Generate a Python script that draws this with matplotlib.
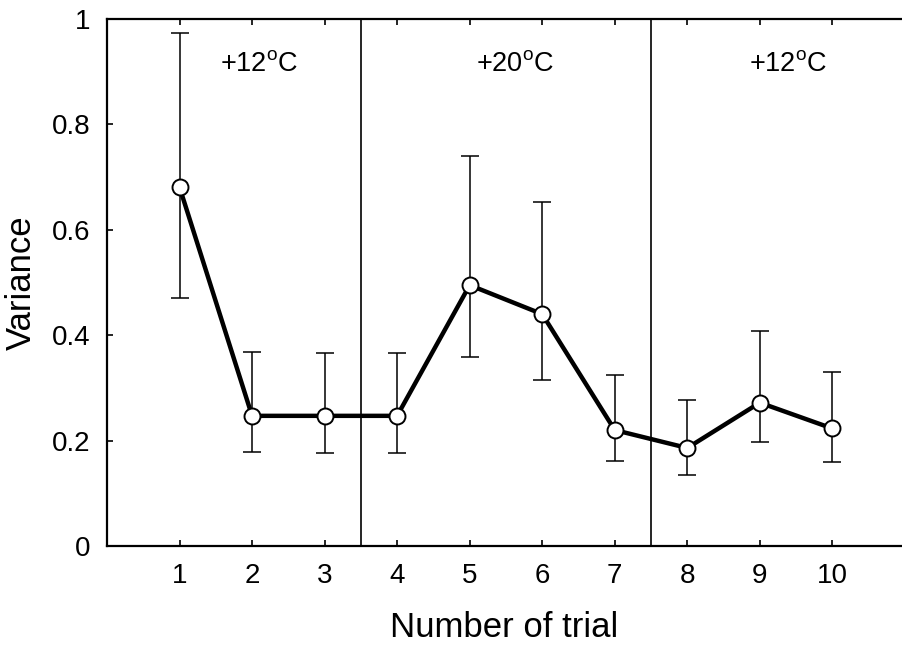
import numpy as np
import matplotlib
matplotlib.use("Agg")
import matplotlib.pyplot as plt

plt.rcParams['font.family'] = ['Liberation Sans', 'DejaVu Sans']
plt.rcParams['mathtext.fontset'] = 'custom'
plt.rcParams['mathtext.rm'] = 'Liberation Sans'

trial = [1, 2, 3, 4, 5, 6, 7, 8, 9, 10]
variance = [0.681, 0.247, 0.247, 0.247, 0.495, 0.440, 0.220, 0.186, 0.272, 0.223]
err_upper = [0.973, 0.368, 0.366, 0.366, 0.741, 0.653, 0.324, 0.277, 0.408, 0.331]
err_lower = [0.471, 0.178, 0.176, 0.176, 0.359, 0.315, 0.161, 0.135, 0.197, 0.159]

phase_bounds = [3.5, 7.5]
phase_labels = [r'+12$^{\mathrm{o}}$C', r'+20$^{\mathrm{o}}$C', r'+12$^{\mathrm{o}}$C']
phase_label_x = [2.10, 5.63, 9.39]


def main():
    fig = plt.figure(figsize=(9.02, 6.49), dpi=100)
    ax = fig.add_axes([0.1186, 0.1587, 0.8814, 0.812])

    y = np.array(variance)
    yerr = [y - np.array(err_lower), np.array(err_upper) - y]

    ax.errorbar(trial, y, yerr=yerr, fmt='none', ecolor='black', elinewidth=1.1,
                capsize=6.5, capthick=1.1, zorder=2)
    ax.plot(trial, y, color='black', lw=3.2, zorder=3)
    ax.plot(trial, y, 'o', ms=11.5, mfc='white', mec='black', mew=1.4, zorder=4)

    for xb in phase_bounds:
        ax.axvline(xb, color='black', lw=1.2, zorder=1)

    for xt, lab in zip(phase_label_x, phase_labels):
        ax.text(xt, 0.915, lab, ha='center', va='center', fontsize=19.5)

    ax.set_xlim(0, 10.96)
    ax.set_ylim(0, 1)
    ax.set_xticks(trial)
    ax.set_yticks([0, 0.2, 0.4, 0.6, 0.8, 1.0])
    ax.set_yticklabels(['0', '0.2', '0.4', '0.6', '0.8', '1'])
    ax.tick_params(axis='both', direction='in', length=4, width=1.2, labelsize=20, pad=12)
    ax.tick_params(axis='x', top=True, pad=12)

    ax.spines['right'].set_visible(False)
    for s in ['left', 'bottom', 'top']:
        ax.spines[s].set_linewidth(1.6)

    ax.set_xlabel('Number of trial', fontsize=25, labelpad=16)
    ax.set_ylabel('Variance', fontsize=25, labelpad=10)

    fig.savefig('out.png', dpi=100)


if __name__ == "__main__":
    main()
